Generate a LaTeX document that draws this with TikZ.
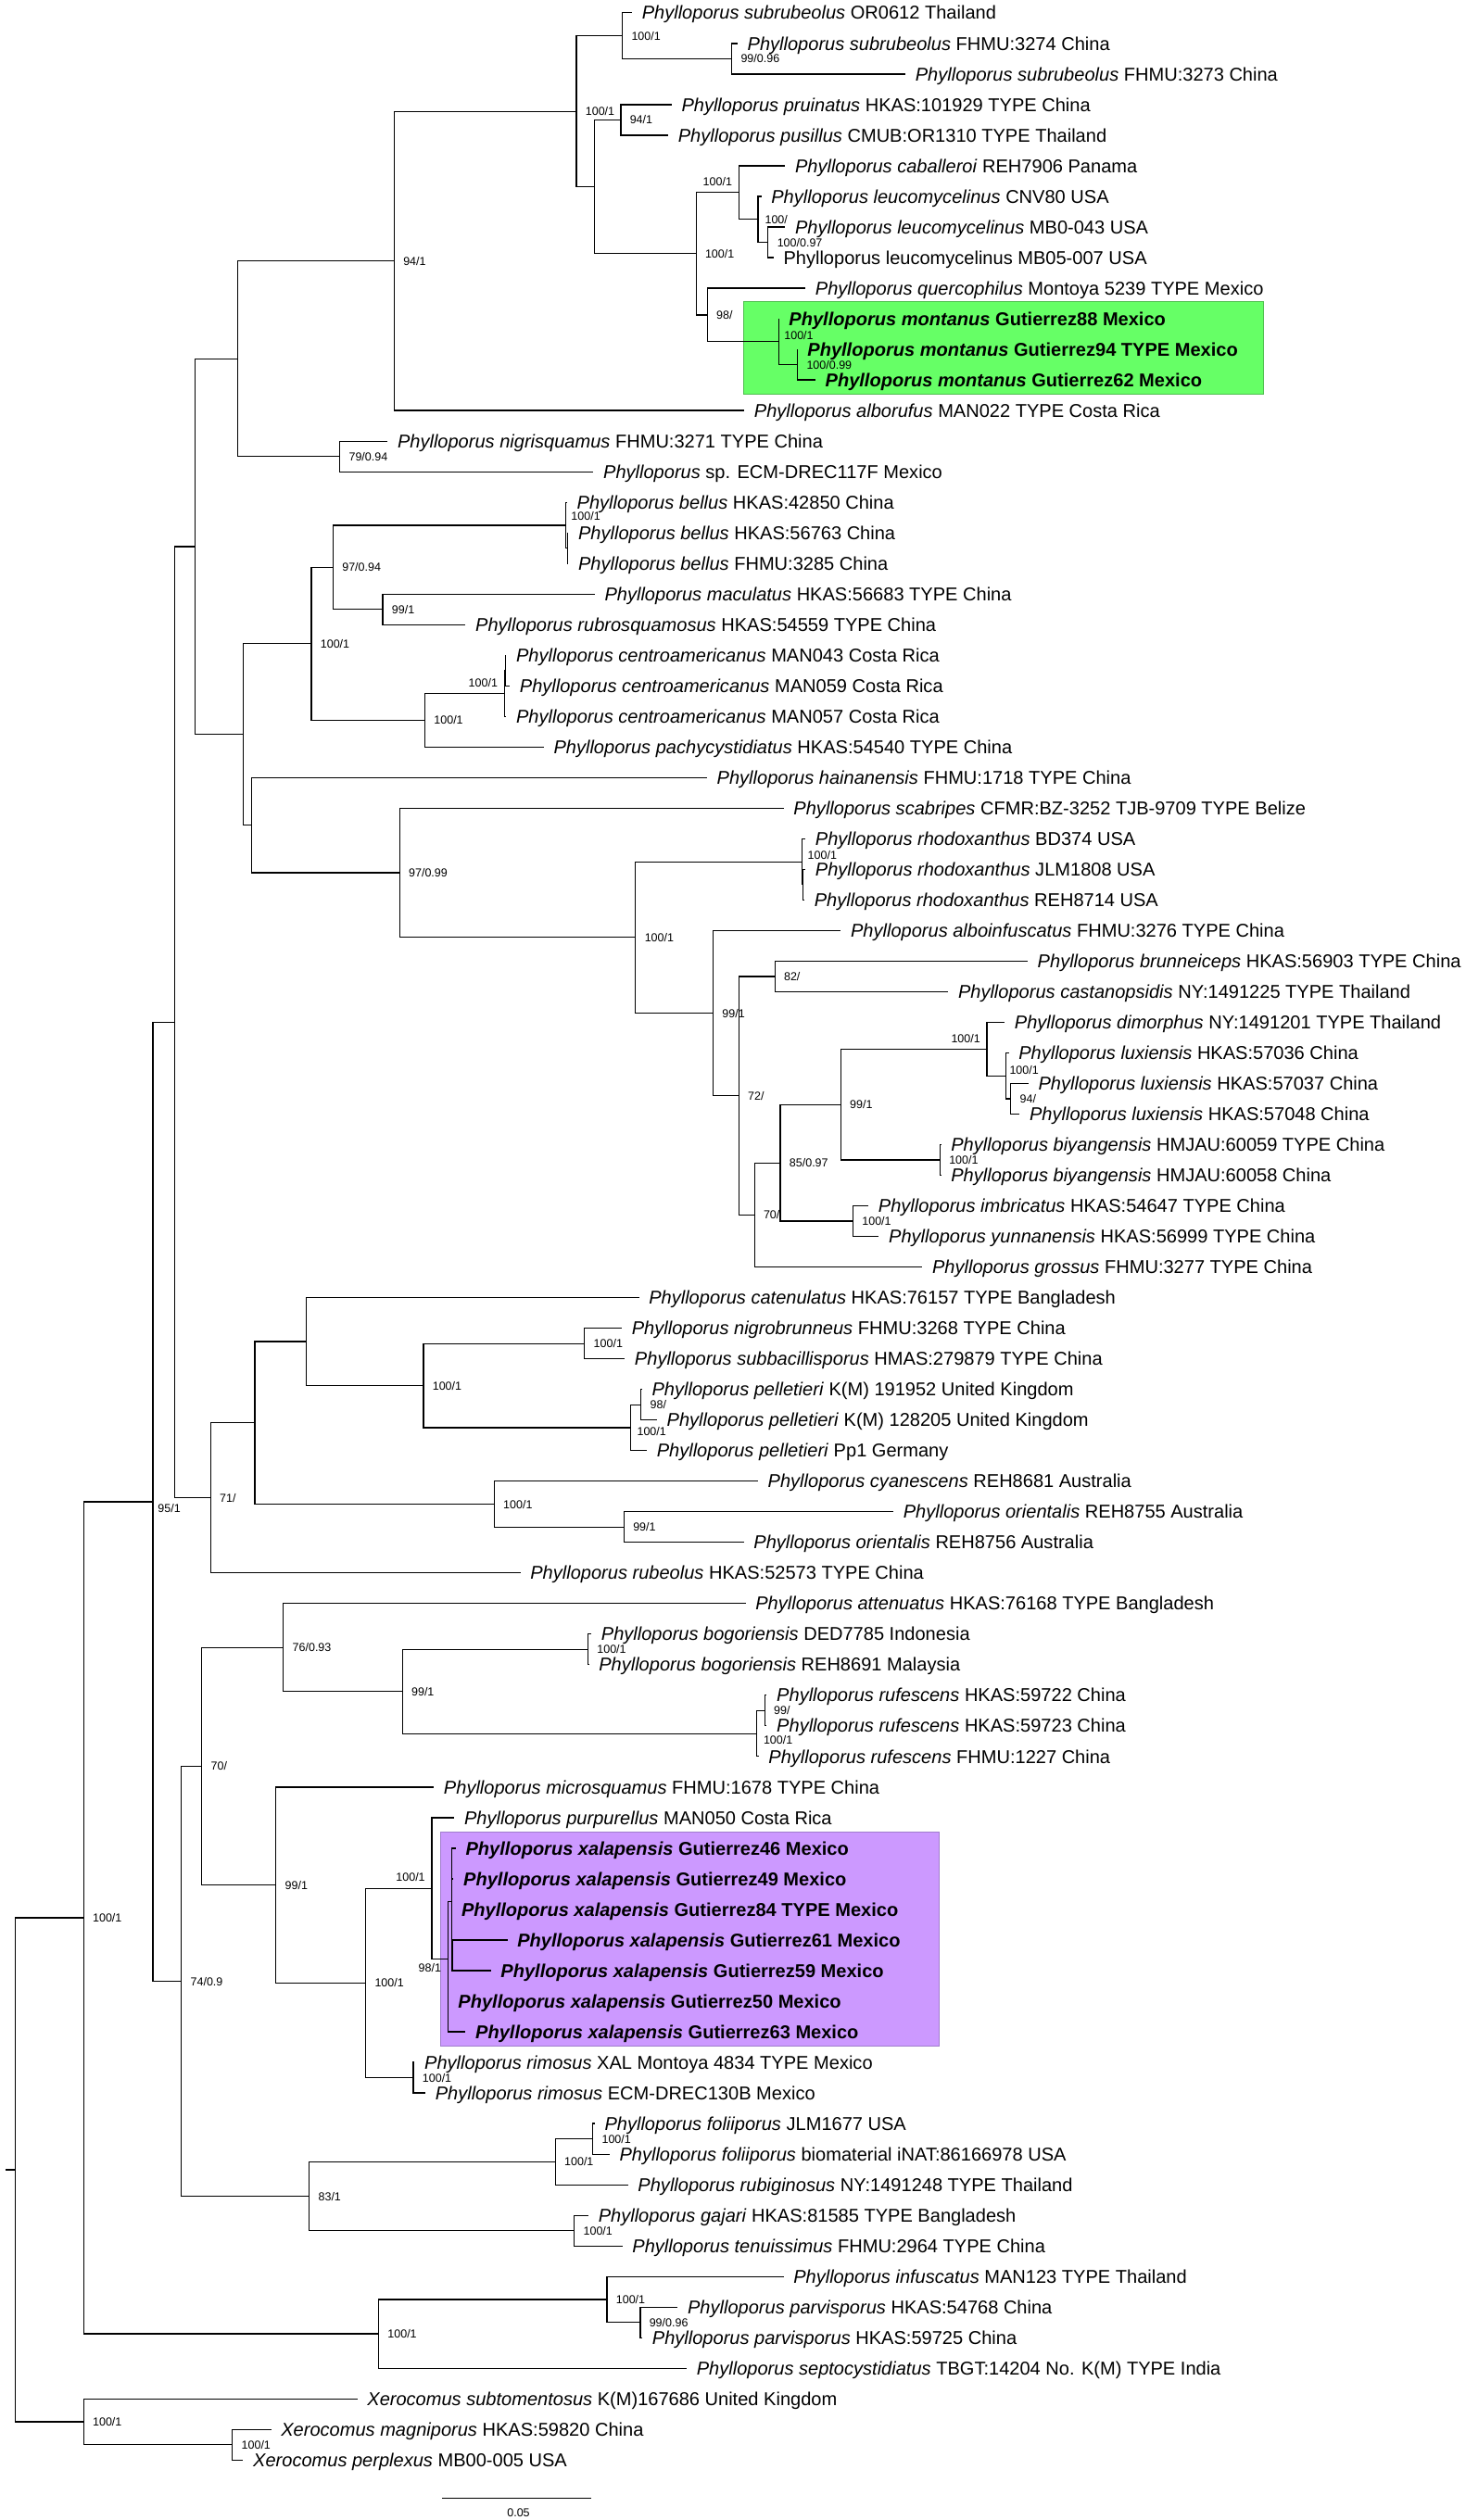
\documentclass[tikz,border=0pt]{standalone}
\usepackage{fontspec}
\setmainfont{Liberation Sans}
\usetikzlibrary{calc}
\definecolor{mgreen}{RGB}{102,255,102}
\definecolor{mgreenb}{RGB}{80,190,80}
\definecolor{mpurple}{RGB}{204,153,255}
\definecolor{mpurpleb}{RGB}{160,125,205}
\newcommand\mk[4]{\path let \p1=(#3),\p2=(#4) in coordinate (#1) at (#2pt,{(\y1+\y2)/2});}
\newcommand\kids[2]{\foreach \kk in {#2}{\draw[br] (#1) |- (\kk);}}
\newcommand\slab[2]{\node[supl] (s#1) at ([xshift=5.5pt,yshift=-2.6pt]#1) {#2};}
\newcommand\slabxy[4]{\node[supl] (s#1) at ([xshift=#2pt,yshift=#3pt]#1) {#4};}
\newcommand\slabl[2]{\node[supl,anchor=base east] (s#1) at ([xshift=-4pt,yshift=4.2pt]#1) {#2};}
\newcommand\leafl[2]{\node[leaf] (l#1) at ([xshift=6pt,yshift=-4.1pt]t#1) {#2};}
\newcommand\Ph[1]{\textit{Phylloporus #1}}
\begin{document}
\begin{tikzpicture}[x=1pt,y=-1pt,
  br/.style={line width=0.7pt},
  leaf/.style={anchor=base west,inner sep=0pt,font=\fontsize{11.55}{13}\selectfont},
  supl/.style={anchor=base west,inner sep=0pt,font=\fontsize{7.2}{8}\selectfont}]
\useasboundingbox (0,0) rectangle (911,1567.3);
% highlight boxes
\fill[mgreen,draw=mgreenb,line width=0.5pt] (462.5,187.8) rectangle (785.8,245.3);
\fill[mpurple,draw=mpurpleb,line width=0.5pt] (273.9,1139.6) rectangle (584.1,1272.8);
% tips
\coordinate (t1) at (393,8.000);
\coordinate (t2) at (458.6,27.025);
\coordinate (t3) at (563,46.050);
\coordinate (t4) at (417.6,65.075);
\coordinate (t5) at (415.5,84.100);
\coordinate (t6) at (488.2,103.125);
\coordinate (t7) at (473.4,122.150);
\coordinate (t8) at (488.2,141.175);
\coordinate (t9) at (481,160.200);
\coordinate (t10) at (500.8,179.225);
\coordinate (t11) at (484.4,198.250);
\coordinate (t12) at (495.9,217.275);
\coordinate (t13) at (507,236.300);
\coordinate (t14) at (462.8,255.325);
\coordinate (t15) at (241,274.350);
\coordinate (t16) at (369,293.375);
\coordinate (t17) at (352.6,312.400);
\coordinate (t18) at (353.4,331.425);
\coordinate (t19) at (353.4,350.450);
\coordinate (t20) at (369.8,369.475);
\coordinate (t21) at (289.5,388.500);
\coordinate (t22) at (314.8,407.525);
\coordinate (t23) at (317,426.550);
\coordinate (t24) at (314.8,445.575);
\coordinate (t25) at (338.1,464.600);
\coordinate (t26) at (439.6,483.625);
\coordinate (t27) at (487.3,502.650);
\coordinate (t28) at (500.8,521.675);
\coordinate (t29) at (500.8,540.700);
\coordinate (t30) at (500.2,559.725);
\coordinate (t31) at (522.8,578.750);
\coordinate (t32) at (639,597.775);
\coordinate (t33) at (589.6,616.800);
\coordinate (t34) at (624.7,635.825);
\coordinate (t35) at (627.2,654.850);
\coordinate (t36) at (639.5,673.875);
\coordinate (t37) at (634,692.900);
\coordinate (t38) at (585.2,711.925);
\coordinate (t39) at (585.2,730.950);
\coordinate (t40) at (540,749.975);
\coordinate (t41) at (546.5,769.000);
\coordinate (t42) at (573.5,788.025);
\coordinate (t43) at (397.3,807.050);
\coordinate (t44) at (386.7,826.075);
\coordinate (t45) at (388.5,845.100);
\coordinate (t46) at (399.2,864.125);
\coordinate (t47) at (408.5,883.150);
\coordinate (t48) at (402.2,902.175);
\coordinate (t49) at (471.3,921.200);
\coordinate (t50) at (555.5,940.225);
\coordinate (t51) at (462.5,959.250);
\coordinate (t52) at (323.6,978.275);
\coordinate (t53) at (463.6,997.300);
\coordinate (t54) at (367.7,1016.325);
\coordinate (t55) at (366.2,1035.350);
\coordinate (t56) at (476.8,1054.375);
\coordinate (t57) at (476.8,1073.400);
\coordinate (t58) at (471.7,1092.425);
\coordinate (t59) at (269.8,1111.450);
\coordinate (t60) at (282.5,1130.475);
\coordinate (t61) at (283.4,1149.500);
\coordinate (t62) at (282,1168.525);
\coordinate (t63) at (280.8,1187.550);
\coordinate (t64) at (315.5,1206.575);
\coordinate (t65) at (305.2,1225.600);
\coordinate (t66) at (278.7,1244.625);
\coordinate (t67) at (289.5,1263.650);
\coordinate (t68) at (257.8,1282.675);
\coordinate (t69) at (264.5,1301.700);
\coordinate (t70) at (369.8,1320.725);
\coordinate (t71) at (379,1339.750);
\coordinate (t72) at (390.5,1358.775);
\coordinate (t73) at (365.9,1377.800);
\coordinate (t74) at (387,1396.825);
\coordinate (t75) at (487.2,1415.850);
\coordinate (t76) at (421.4,1434.875);
\coordinate (t77) at (399.4,1453.900);
\coordinate (t78) at (427,1472.925);
\coordinate (t79) at (222.2,1491.950);
\coordinate (t80) at (168.6,1510.975);
\coordinate (t81) at (151.2,1530.000);
% internal nodes
\mk{nsubb}{455}{t2}{t3}
\mk{nsub}{387}{t1}{nsubb}
\mk{npru}{386}{t4}{t5}
\mk{nleub}{477.6}{t8}{t9}
\mk{nleu}{471.3}{t7}{nleub}
\mk{ncab}{459.4}{t6}{nleu}
\mk{nmonb}{495.9}{t12}{t13}
\mk{nmon}{484.4}{t11}{nmonb}
\mk{nD}{439.8}{t10}{nmon}
\mk{nC}{432.8}{ncab}{nD}
\mk{nB}{369.8}{npru}{nC}
\mk{nA}{358.4}{nsub}{nB}
\mk{nE}{245.1}{nA}{t14}
\mk{nnig}{211.3}{t15}{t16}
\mk{nF}{148}{nE}{nnig}
\mk{nbelb}{352.9}{t18}{t19}
\mk{nbel}{351.6}{t17}{nbelb}
\mk{nmac}{238}{t20}{t21}
\mk{nQ}{207.1}{nbel}{nmac}
\mk{ncenb}{314.2}{t22}{t23}
\mk{ncen}{313.6}{ncenb}{t24}
\mk{nR}{264.2}{ncen}{t25}
\mk{nP}{193.6}{nQ}{nR}
\mk{nrhob}{499.5}{t29}{t30}
\mk{nrho}{498.7}{t28}{nrhob}
\mk{nW}{481.8}{t32}{t33}
\mk{nluxb}{628.5}{t36}{t37}
\mk{nlux}{625.5}{t35}{nluxb}
\mk{ndim}{613.7}{t34}{nlux}
\mk{nbiy}{584.5}{t38}{t39}
\mk{nZ}{522.8}{ndim}{nbiy}
\mk{nimb}{530.4}{t40}{t41}
\mk{nY}{485.2}{nZ}{nimb}
\mk{nX}{469.1}{nY}{t42}
\mk{nV}{459.4}{nW}{nX}
\mk{nU}{443.4}{t31}{nV}
\mk{nT}{395.2}{nrho}{nU}
\mk{nS}{248.5}{t27}{nT}
\mk{nI}{156.4}{t26}{nS}
\mk{nH}{151.3}{nP}{nI}
\mk{nG}{121.3}{nF}{nH}
\mk{nnigro}{363.5}{t44}{t45}
\mk{npelb}{398.6}{t46}{t47}
\mk{npel}{392.2}{npelb}{t48}
\mk{nAD}{263.3}{nnigro}{npel}
\mk{nAB}{190.6}{t43}{nAD}
\mk{nori}{388}{t50}{t51}
\mk{nAC}{307.3}{t49}{nori}
\mk{nAA}{158.5}{nAB}{nAC}
\mk{nK}{131}{nAA}{t52}
\mk{nJ}{108.6}{nG}{nK}
\mk{nbog}{365.6}{t54}{t55}
\mk{nrufb}{475.5}{t56}{t57}
\mk{nruf}{470.4}{nrufb}{t58}
\mk{nAI}{250.2}{nbog}{nruf}
\mk{nAG}{176.2}{t53}{nAI}
\mk{nxb}{281.2}{t64}{t65}
\mk{nAN}{280.8}{t61}{nxb}
\mk{nxc}{278.7}{t66}{t67}
\mk{nAL}{278.5}{nAN}{nxc}
\mk{nAK}{268.5}{t60}{nAL}
\mk{nrim}{257}{t68}{t69}
\mk{nAJ}{227.4}{nAK}{nrim}
\mk{nAH}{171.6}{t59}{nAJ}
\mk{nAE}{125.5}{nAG}{nAH}
\mk{nfoli}{368.6}{t70}{t71}
\mk{nfolc}{345.3}{nfoli}{t72}
\mk{ngaj}{357.1}{t73}{t74}
\mk{nAF}{192.3}{nfolc}{ngaj}
\mk{nM}{112.8}{nAE}{nAF}
\mk{nL}{95.1}{nJ}{nM}
\mk{nparv}{398.1}{t76}{t77}
\mk{nAM}{377.4}{t75}{nparv}
\mk{nO}{235.4}{nAM}{t78}
\mk{nN}{52}{nL}{nO}
\mk{nxmp}{144.5}{t80}{t81}
\mk{nxer}{52}{t79}{nxmp}
\mk{nroot}{9.3}{nN}{nxer}
\path let \p1=(nroot) in coordinate (rootstub) at (3.4pt,\y1);
% branches
\draw[br] (rootstub) -- (nroot);
\kids{nroot}{nN,nxer}
\kids{nN}{nL,nO}
\kids{nL}{nJ,nM}
\kids{nJ}{nG,nK}
\kids{nG}{nF,nH}
\kids{nF}{nE,nnig}
\kids{nE}{nA,t14}
\kids{nA}{nsub,nB}
\kids{nsub}{t1,nsubb}
\kids{nsubb}{t2,t3}
\kids{nB}{npru,nC}
\kids{npru}{t4,t5}
\kids{nC}{ncab,nD}
\kids{ncab}{t6,nleu}
\kids{nleu}{t7,nleub}
\kids{nleub}{t8,t9}
\kids{nD}{t10,nmon}
\kids{nmon}{t11,nmonb}
\kids{nmonb}{t12,t13}
\kids{nnig}{t15,t16}
\kids{nH}{nP,nI}
\kids{nP}{nQ,nR}
\kids{nQ}{nbel,nmac}
\kids{nbel}{t17,nbelb}
\kids{nbelb}{t18,t19}
\kids{nmac}{t20,t21}
\kids{nR}{ncen,t25}
\kids{ncen}{ncenb,t24}
\kids{ncenb}{t22,t23}
\kids{nI}{t26,nS}
\kids{nS}{t27,nT}
\kids{nT}{nrho,nU}
\kids{nrho}{t28,nrhob}
\kids{nrhob}{t29,t30}
\kids{nU}{t31,nV}
\kids{nV}{nW,nX}
\kids{nW}{t32,t33}
\kids{nX}{nY,t42}
\kids{nY}{nZ,nimb}
\kids{nZ}{ndim,nbiy}
\kids{ndim}{t34,nlux}
\kids{nlux}{t35,nluxb}
\kids{nluxb}{t36,t37}
\kids{nbiy}{t38,t39}
\kids{nimb}{t40,t41}
\kids{nK}{nAA,t52}
\kids{nAA}{nAB,nAC}
\kids{nAB}{t43,nAD}
\kids{nAD}{nnigro,npel}
\kids{nnigro}{t44,t45}
\kids{npel}{npelb,t48}
\kids{npelb}{t46,t47}
\kids{nAC}{t49,nori}
\kids{nori}{t50,t51}
\kids{nM}{nAE,nAF}
\kids{nAE}{nAG,nAH}
\kids{nAG}{t53,nAI}
\kids{nAI}{nbog,nruf}
\kids{nbog}{t54,t55}
\kids{nruf}{nrufb,t58}
\kids{nrufb}{t56,t57}
\kids{nAH}{t59,nAJ}
\kids{nAJ}{nAK,nrim}
\kids{nAK}{t60,nAL}
\kids{nAL}{nAN,nxc}
\kids{nAN}{t61,t62,t63,nxb}
\kids{nxb}{t64,t65}
\kids{nxc}{t66,t67}
\kids{nrim}{t68,t69}
\kids{nAF}{nfolc,ngaj}
\kids{nfolc}{nfoli,t72}
\kids{nfoli}{t70,t71}
\kids{ngaj}{t73,t74}
\kids{nO}{nAM,t78}
\kids{nAM}{t75,nparv}
\kids{nparv}{t76,t77}
\kids{nxer}{t79,nxmp}
\kids{nxmp}{t80,t81}
% support values
\slab{nsub}{100/1}
\slab{nsubb}{99/0.96}
\slab{nA}{100/1}
\slab{npru}{94/1}
\slabl{ncab}{100/1}
\slabxy{nleu}{4.2}{-2.6}{100/}
\slab{nleub}{100/0.97}
\slab{nC}{100/1}
\slab{nD}{98/}
\slabxy{nmon}{3.1}{1.2}{100/1}
\slab{nmonb}{100/0.99}
\slab{nE}{94/1}
\slab{nnig}{79/0.94}
\slabxy{nbel}{3.4}{3}{100/1}
\slab{nQ}{97/0.94}
\slab{nmac}{99/1}
\slabl{ncen}{100/1}
\slab{nR}{100/1}
\slab{nP}{100/1}
\slab{nS}{97/0.99}
\slab{nT}{100/1}
\slabxy{nrho}{3.4}{1.6}{100/1}
\slab{nU}{99/1}
\slab{nV}{72/}
\slab{nW}{82/}
\slab{nX}{70/}
\slab{nY}{85/0.97}
\slab{nZ}{99/1}
\slabl{ndim}{100/1}
\slabxy{nlux}{2.1}{1.1}{100/1}
\slab{nluxb}{94/}
\slab{nbiy}{100/1}
\slab{nimb}{100/1}
\slab{nAD}{100/1}
\slab{nnigro}{100/1}
\slabxy{npel}{3.8}{-4.8}{100/1}
\slab{npelb}{98/}
\slab{nAC}{100/1}
\slab{nori}{99/1}
\slab{nK}{71/}
\slabxy{nL}{2.9}{-6.5}{95/1}
\slab{nM}{74/0.9}
\slab{nAE}{70/}
\slab{nAG}{76/0.93}
\slab{nAI}{99/1}
\slab{nbog}{100/1}
\slabxy{nruf}{4.2}{-6.7}{100/1}
\slab{nrufb}{99/}
\slab{nAH}{99/1}
\slab{nAJ}{100/1}
\slabl{nAK}{100/1}
\node[supl,anchor=base east] (snAL) at ([xshift=-4pt,yshift=-8.2pt]nAL) {98/1};
\slab{nrim}{100/1}
\slab{nAF}{83/1}
\slab{nfolc}{100/1}
\slab{nfoli}{100/1}
\slab{ngaj}{100/1}
\slab{nN}{100/1}
\slab{nO}{100/1}
\slab{nAM}{100/1}
\slab{nparv}{99/0.96}
\slab{nxer}{100/1}
\slab{nxmp}{100/1}
% leaf labels
\leafl{1}{\Ph{subrubeolus} OR0612 Thailand}
\leafl{2}{\Ph{subrubeolus} FHMU:3274 China}
\leafl{3}{\Ph{subrubeolus} FHMU:3273 China}
\leafl{4}{\Ph{pruinatus} HKAS:101929 TYPE China}
\leafl{5}{\Ph{pusillus} CMUB:OR1310 TYPE Thailand}
\leafl{6}{\Ph{caballeroi} REH7906 Panama}
\leafl{7}{\Ph{leucomycelinus} CNV80 USA}
\leafl{8}{\Ph{leucomycelinus} MB0-043 USA}
\leafl{9}{Phylloporus leucomycelinus MB05-007 USA}
\leafl{10}{\Ph{quercophilus} Montoya 5239 TYPE Mexico}
\leafl{11}{\textbf{\Ph{montanus} Gutierrez88 Mexico}}
\leafl{12}{\textbf{\Ph{montanus} Gutierrez94 TYPE Mexico}}
\leafl{13}{\textbf{\Ph{montanus} Gutierrez62 Mexico}}
\leafl{14}{\Ph{alborufus} MAN022 TYPE Costa Rica}
\leafl{15}{\Ph{nigrisquamus} FHMU:3271 TYPE China}
\leafl{16}{\textit{Phylloporus} sp. ECM-DREC117F Mexico}
\leafl{17}{\Ph{bellus} HKAS:42850 China}
\leafl{18}{\Ph{bellus} HKAS:56763 China}
\leafl{19}{\Ph{bellus} FHMU:3285 China}
\leafl{20}{\Ph{maculatus} HKAS:56683 TYPE China}
\leafl{21}{\Ph{rubrosquamosus} HKAS:54559 TYPE China}
\leafl{22}{\Ph{centroamericanus} MAN043 Costa Rica}
\leafl{23}{\Ph{centroamericanus} MAN059 Costa Rica}
\leafl{24}{\Ph{centroamericanus} MAN057 Costa Rica}
\leafl{25}{\Ph{pachycystidiatus} HKAS:54540 TYPE China}
\leafl{26}{\Ph{hainanensis} FHMU:1718 TYPE China}
\leafl{27}{\Ph{scabripes} CFMR:BZ-3252 TJB-9709 TYPE Belize}
\leafl{28}{\Ph{rhodoxanthus} BD374 USA}
\leafl{29}{\Ph{rhodoxanthus} JLM1808 USA}
\leafl{30}{\Ph{rhodoxanthus} REH8714 USA}
\leafl{31}{\Ph{alboinfuscatus} FHMU:3276 TYPE China}
\leafl{32}{\Ph{brunneiceps} HKAS:56903 TYPE China}
\leafl{33}{\Ph{castanopsidis} NY:1491225 TYPE Thailand}
\leafl{34}{\Ph{dimorphus} NY:1491201 TYPE Thailand}
\leafl{35}{\Ph{luxiensis} HKAS:57036 China}
\leafl{36}{\Ph{luxiensis} HKAS:57037 China}
\leafl{37}{\Ph{luxiensis} HKAS:57048 China}
\leafl{38}{\Ph{biyangensis} HMJAU:60059 TYPE China}
\leafl{39}{\Ph{biyangensis} HMJAU:60058 China}
\leafl{40}{\Ph{imbricatus} HKAS:54647 TYPE China}
\leafl{41}{\Ph{yunnanensis} HKAS:56999 TYPE China}
\leafl{42}{\Ph{grossus} FHMU:3277 TYPE China}
\leafl{43}{\Ph{catenulatus} HKAS:76157 TYPE Bangladesh}
\leafl{44}{\Ph{nigrobrunneus} FHMU:3268 TYPE China}
\leafl{45}{\Ph{subbacillisporus} HMAS:279879 TYPE China}
\leafl{46}{\Ph{pelletieri} K(M) 191952 United Kingdom}
\leafl{47}{\Ph{pelletieri} K(M) 128205 United Kingdom}
\leafl{48}{\Ph{pelletieri} Pp1 Germany}
\leafl{49}{\Ph{cyanescens} REH8681 Australia}
\leafl{50}{\Ph{orientalis} REH8755 Australia}
\leafl{51}{\Ph{orientalis} REH8756 Australia}
\leafl{52}{\Ph{rubeolus} HKAS:52573 TYPE China}
\leafl{53}{\Ph{attenuatus} HKAS:76168 TYPE Bangladesh}
\leafl{54}{\Ph{bogoriensis} DED7785 Indonesia}
\leafl{55}{\Ph{bogoriensis} REH8691 Malaysia}
\leafl{56}{\Ph{rufescens} HKAS:59722 China}
\leafl{57}{\Ph{rufescens} HKAS:59723 China}
\leafl{58}{\Ph{rufescens} FHMU:1227 China}
\leafl{59}{\Ph{microsquamus} FHMU:1678 TYPE China}
\leafl{60}{\Ph{purpurellus} MAN050 Costa Rica}
\leafl{61}{\textbf{\Ph{xalapensis} Gutierrez46 Mexico}}
\leafl{62}{\textbf{\Ph{xalapensis} Gutierrez49 Mexico}}
\leafl{63}{\textbf{\Ph{xalapensis} Gutierrez84 TYPE Mexico}}
\leafl{64}{\textbf{\Ph{xalapensis} Gutierrez61 Mexico}}
\leafl{65}{\textbf{\Ph{xalapensis} Gutierrez59 Mexico}}
\leafl{66}{\textbf{\Ph{xalapensis} Gutierrez50 Mexico}}
\leafl{67}{\textbf{\Ph{xalapensis} Gutierrez63 Mexico}}
\leafl{68}{\Ph{rimosus} XAL Montoya 4834 TYPE Mexico}
\leafl{69}{\Ph{rimosus} ECM-DREC130B Mexico}
\leafl{70}{\Ph{foliiporus} JLM1677 USA}
\leafl{71}{\Ph{foliiporus} biomaterial iNAT:86166978 USA}
\leafl{72}{\Ph{rubiginosus} NY:1491248 TYPE Thailand}
\leafl{73}{\Ph{gajari} HKAS:81585 TYPE Bangladesh}
\leafl{74}{\Ph{tenuissimus} FHMU:2964 TYPE China}
\leafl{75}{\Ph{infuscatus} MAN123 TYPE Thailand}
\leafl{76}{\Ph{parvisporus} HKAS:54768 China}
\leafl{77}{\Ph{parvisporus} HKAS:59725 China}
\leafl{78}{\Ph{septocystidiatus} TBGT:14204 No. K(M) TYPE India}
\leafl{79}{\textit{Xerocomus subtomentosus} K(M)167686 United Kingdom}
\leafl{80}{\textit{Xerocomus magniporus} HKAS:59820 China}
\leafl{81}{\textit{Xerocomus perplexus} MB00-005 USA}
% scale bar
\coordinate (sb1) at (275.1,1553.9);
\coordinate (sb2) at (367.7,1553.9);
\draw[br] (sb1) -- (sb2);
\node[supl,anchor=base] (sbl) at (322.4,1565) {0.05};
\end{tikzpicture}
\end{document}
